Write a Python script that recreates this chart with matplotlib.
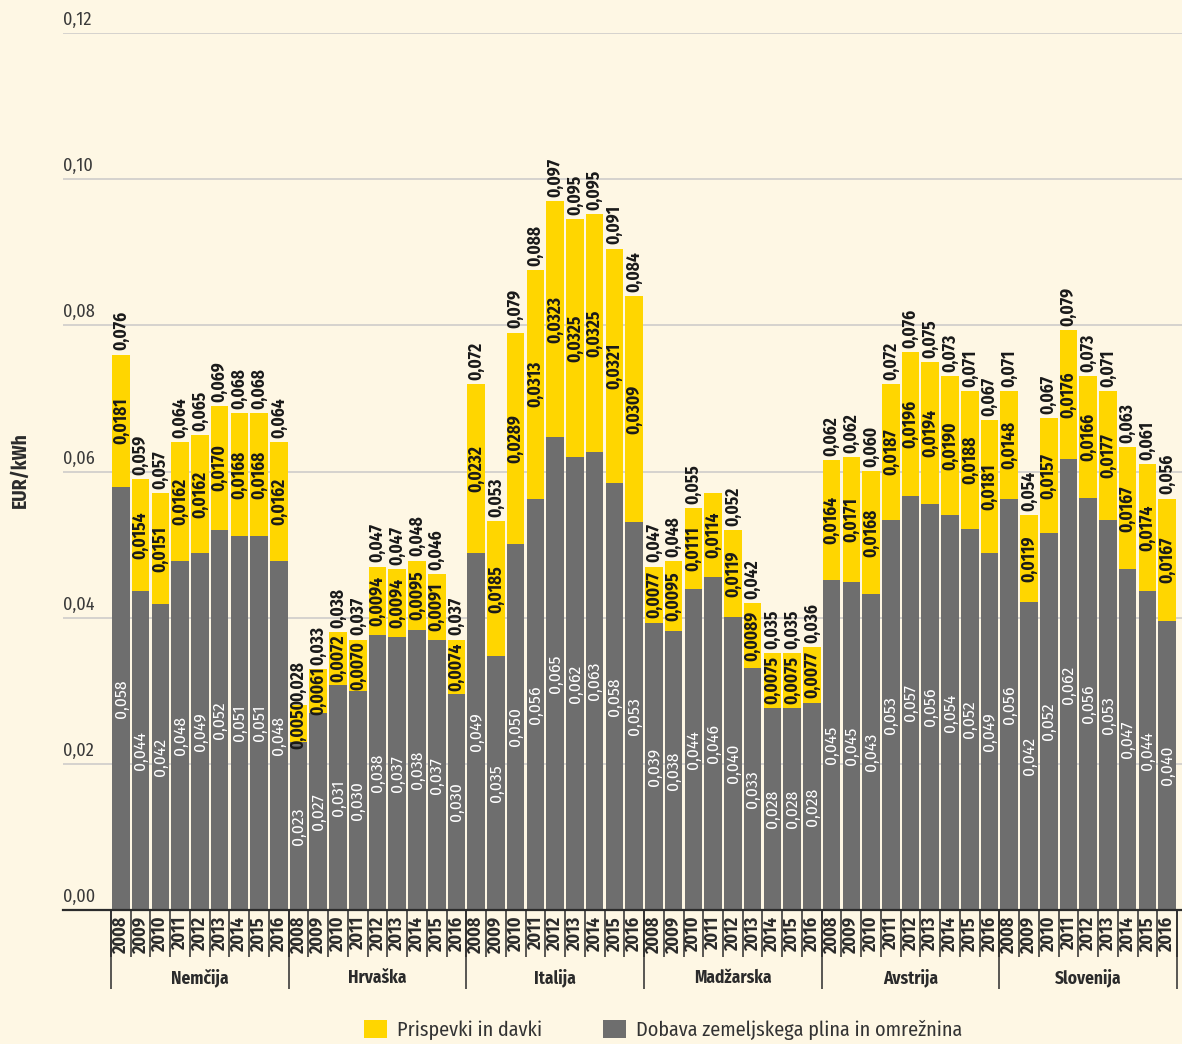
import numpy as np
import matplotlib
matplotlib.use("Agg")
import matplotlib.pyplot as plt
from matplotlib import font_manager as fm
from matplotlib.patches import Patch

# ---------------- data ----------------
countries = ["Nemčija", "Hrvaška", "Italija", "Madžarska", "Avstrija", "Slovenija"]
years = ["2008", "2009", "2010", "2011", "2012", "2013", "2014", "2015", "2016"]

# Dobava zemeljskega plina in omrežnina (grey part)
supply_nem = [0.0579, 0.0436, 0.0419, 0.0478, 0.0488, 0.0520, 0.0512, 0.0512, 0.0478]
supply_hrv = [0.0230, 0.0269, 0.0308, 0.0300, 0.0376, 0.0373, 0.0383, 0.0369, 0.0296]
supply_ita = [0.0488, 0.0347, 0.0501, 0.0563, 0.0647, 0.0620, 0.0627, 0.0584, 0.0531]
supply_mad = [0.0393, 0.0382, 0.0439, 0.0456, 0.0401, 0.0331, 0.0277, 0.0277, 0.0283]
supply_avs = [0.0452, 0.0449, 0.0432, 0.0533, 0.0567, 0.0556, 0.0540, 0.0522, 0.0489]
supply_slo = [0.0562, 0.0421, 0.0516, 0.0617, 0.0564, 0.0533, 0.0466, 0.0436, 0.0396]

# Prispevki in davki (yellow part)
tax_nem = [0.0181, 0.0154, 0.0151, 0.0162, 0.0162, 0.0170, 0.0168, 0.0168, 0.0162]
tax_hrv = [0.0050, 0.0061, 0.0072, 0.0070, 0.0094, 0.0094, 0.0095, 0.0091, 0.0074]
tax_ita = [0.0232, 0.0185, 0.0289, 0.0313, 0.0323, 0.0325, 0.0325, 0.0321, 0.0309]
tax_mad = [0.0077, 0.0095, 0.0111, 0.0114, 0.0119, 0.0089, 0.0075, 0.0075, 0.0077]
tax_avs = [0.0164, 0.0171, 0.0168, 0.0187, 0.0196, 0.0194, 0.0190, 0.0188, 0.0181]
tax_slo = [0.0148, 0.0119, 0.0157, 0.0176, 0.0166, 0.0177, 0.0167, 0.0174, 0.0167]

# total labels printed above bars (None = not shown)
total_nem = [0.076, 0.059, 0.057, 0.064, 0.065, 0.069, 0.068, 0.068, 0.064]
total_hrv = [0.028, 0.033, 0.038, 0.037, 0.047, 0.047, 0.048, 0.046, 0.037]
total_ita = [0.072, 0.053, 0.079, 0.088, 0.097, 0.095, 0.095, 0.091, 0.084]
total_mad = [0.047, 0.048, 0.055, None, 0.052, 0.042, 0.035, 0.035, 0.036]
total_avs = [0.062, 0.062, 0.060, 0.072, 0.076, 0.075, 0.073, 0.071, 0.067]
total_slo = [0.071, 0.054, 0.067, 0.079, 0.073, 0.071, 0.063, 0.061, 0.056]

y_ticks = [0.00, 0.02, 0.04, 0.06, 0.08, 0.10, 0.12]

legend_labels = ["Prispevki in davki", "Dobava zemeljskega plina in omrežnina"]
y_title = "EUR/kWh"

supply = np.array(supply_nem + supply_hrv + supply_ita + supply_mad + supply_avs + supply_slo)
tax = np.array(tax_nem + tax_hrv + tax_ita + tax_mad + tax_avs + tax_slo)
totals = total_nem + total_hrv + total_ita + total_mad + total_avs + total_slo

# ---------------- fonts ----------------
names = {f.name for f in fm.fontManager.ttflist}
FONT = "Liberation Sans"
for p in ["Fira Sans Condensed", "Roboto Condensed", "Fira Sans"]:
    if p in names:
        FONT = p
        break

plt.rcParams["font.family"] = [FONT, "DejaVu Sans"]

BG = "#FEF7E4"
YELLOW = "#FFD600"
GREY = "#6E6E6E"
DARK = "#2B2B2B"
GRID = "#D2D0CC"

W, H = 1182, 1044
fig = plt.figure(figsize=(W / 100, H / 100), dpi=100, facecolor=BG)
ax_left, ax_right, ax_top, ax_bot = 63, 1182, 33, 910
ax = fig.add_axes([ax_left / W, 1 - ax_bot / H, (ax_right - ax_left) / W, (ax_bot - ax_top) / H])
ax.set_facecolor(BG)

n = len(supply)
x = np.arange(n)
bw = 0.89

ax.bar(x, supply, width=bw, color=GREY, zorder=2)
ax.bar(x, tax, width=bw, bottom=supply, color=YELLOW, zorder=2)

ax.set_ylim(0, 0.12)
ax.set_xlim(-2.93, n - 0.5 + 0.25)

ax.set_yticks(y_ticks)
ax.yaxis.grid(True, color=GRID, lw=1.3)
ax.set_axisbelow(True)
ax.tick_params(axis="y", length=0, labelleft=False)
for t in y_ticks:
    ax.annotate(f"{t:.2f}".replace(".", ","), xy=(0, t), xycoords=("axes fraction", "data"),
                xytext=(0, 3), textcoords="offset points", ha="left", va="bottom",
                fontsize=13, fontweight="normal", color="#3A3A3A")

for s in ["top", "right", "left"]:
    ax.spines[s].set_visible(False)
ax.spines["bottom"].set_color(DARK)
ax.spines["bottom"].set_linewidth(1.6)

year_labels = years * len(countries)
ax.set_xticks(x)
ax.set_xticklabels(year_labels, rotation=90, fontsize=13, fontweight="bold", color=DARK)
ax.tick_params(axis="x", length=0, pad=5)

trans = ax.get_xaxis_transform()
px = 1.0 / (ax_bot - ax_top)
bounds = np.arange(n + 1) - 0.5
ax.vlines(bounds, -47 * px, 0, transform=trans, colors=DARK, lw=1.1, clip_on=False)
gb = np.arange(0, n + 1, len(years)) - 0.5
ax.vlines(gb, -79 * px, 0, transform=trans, colors=DARK, lw=1.1, clip_on=False)

for gi, c in enumerate(countries):
    cx = gi * len(years) + (len(years) - 1) / 2
    ax.text(cx, -68 * px, c, transform=trans, ha="center", va="center",
            fontsize=12.5, fontweight="bold", color=DARK)

for i in range(n):
    ax.text(x[i], supply[i] / 2, f"{supply[i]:.3f}".replace(".", ","), rotation=90,
            ha="center", va="center", color="white", fontsize=12.5, zorder=3)
    ax.text(x[i], supply[i] + tax[i] / 2, f"{tax[i]:.4f}".replace(".", ","), rotation=90,
            ha="center", va="center", color="#1A1A1A", fontsize=12.5,
            fontweight="bold", zorder=3)
    if totals[i] is not None:
        ax.annotate(f"{totals[i]:.3f}".replace(".", ","), xy=(x[i], supply[i] + tax[i]),
                    xytext=(0, 3), textcoords="offset points", rotation=90,
                    ha="center", va="bottom", color="#1A1A1A", fontsize=12.5,
                    fontweight="bold", zorder=3)

ax.set_ylabel(y_title, fontsize=14, fontweight="bold", color=DARK)
ax.yaxis.set_label_coords(-(ax_left - 30) / (ax_right - ax_left), (ax_bot - 470) / (ax_bot - ax_top))

handles = [Patch(facecolor=YELLOW, edgecolor="none"), Patch(facecolor=GREY, edgecolor="none")]
fig.legend(handles, legend_labels, loc="center", bbox_to_anchor=(663 / W, 1 - 1030 / H),
           ncol=2, frameon=False, prop={"size": 14.5, "weight": "normal"},
           handlelength=1.15, handleheight=0.95, handletextpad=0.5, columnspacing=3.0,
           labelcolor="#333333")

fig.savefig("out.png", dpi=100, facecolor=BG)
